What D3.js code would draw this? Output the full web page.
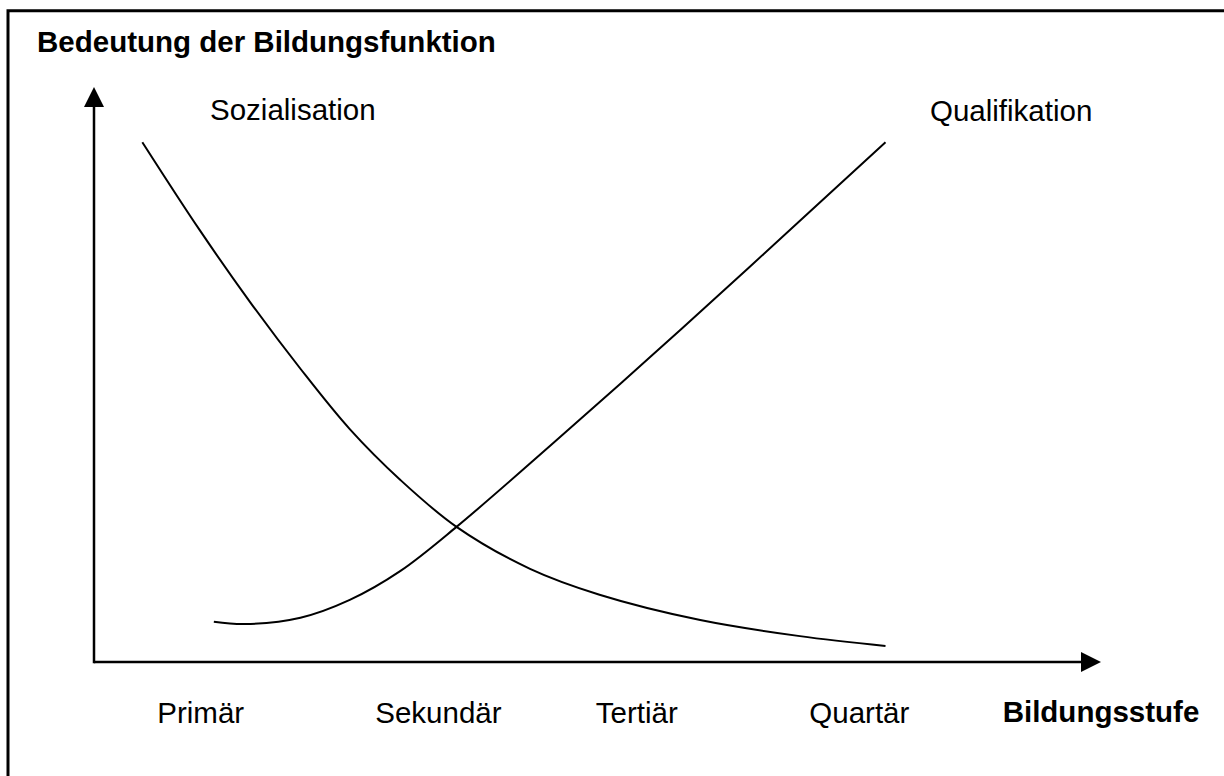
<!DOCTYPE html>
<html lang="de">
<head>
    <meta charset="UTF-8">
    <title>Bedeutung der Bildungsfunktion</title>
    <script src="https://d3js.org/d3.v7.min.js"></script>
    <style>
        body {
            margin: 0;
            background-color: #ffffff;
            font-family: "Liberation Sans", Arial, sans-serif;
        }
        .label {
            font-size: 29.5px;
            fill: #000;
        }
        .bold {
            font-weight: bold;
        }
    </style>
</head>
<body>
    <svg width="1224" height="776"></svg>
    <script>
        // Bildungsstufen (x-Position in Achseneinheiten 0..100)
        const stages = ["Primär", "Sekundär", "Tertiär", "Quartär"];
        const stagePos = [10.6, 34.2, 53.9, 76.0];

        // Sozialisation (fallend)
        const sozX = [4.8, 10.5, 15.5, 20.5, 25.4, 30.4, 36.0, 43.3, 50.2, 60.2, 70.1, 78.6];
        const sozY = [90.4, 75.1, 62.6, 51.0, 40.5, 31.7, 23.5, 16.2, 11.7, 7.3, 4.5, 2.8];

        // Qualifikation (steigend)
        const qualX = [11.9, 15.0, 20.5, 25.4, 30.4, 36.0, 45.3, 55.2, 65.1, 78.6];
        const qualY = [7.0, 6.6, 7.7, 10.8, 15.8, 23.5, 37.6, 53.0, 68.7, 90.4];

        const svg = d3.select("svg");

        const x = d3.scaleLinear().domain([0, 100]).range([94, 1101]);
        const y = d3.scaleLinear().domain([0, 100]).range([662, 87]);

        // Rahmen (nur links und oben sichtbar)
        svg.append("path")
           .attr("d", "M8,776 L8,10.7 L1224,10.7")
           .attr("fill", "none")
           .attr("stroke", "#000")
           .attr("stroke-width", 3);

        // Achsen mit Pfeilspitzen
        const x0 = x(0), y0 = y(0), xEnd = x(100), yEnd = y(100);
        svg.append("path")
           .attr("d", `M${x0},${y0} L${xEnd - 20},${y0}`)
           .attr("stroke", "#000")
           .attr("stroke-width", 2.5);
        svg.append("path")
           .attr("d", `M${xEnd},${y0} L${xEnd - 20},${y0 - 10} L${xEnd - 20},${y0 + 10} Z`)
           .attr("fill", "#000");

        svg.append("path")
           .attr("d", `M${x0},${y0 + 1.25} L${x0},${yEnd + 20}`)
           .attr("stroke", "#000")
           .attr("stroke-width", 2.5);
        svg.append("path")
           .attr("d", `M${x0},${yEnd} L${x0 - 10},${yEnd + 20} L${x0 + 10},${yEnd + 20} Z`)
           .attr("fill", "#000");

        // Kurven
        const line = d3.line()
                       .x(d => x(d[0]))
                       .y(d => y(d[1]))
                       .curve(d3.curveCatmullRom.alpha(0.5));

        const series = [
            {name: "Sozialisation", pts: d3.zip(sozX, sozY)},
            {name: "Qualifikation", pts: d3.zip(qualX, qualY)}
        ];

        svg.selectAll(".curve")
           .data(series)
           .enter()
           .append("path")
           .attr("class", "curve")
           .attr("d", d => line(d.pts))
           .attr("fill", "none")
           .attr("stroke", "#000")
           .attr("stroke-width", 2);

        // Kurvenbeschriftungen
        svg.append("text").attr("class", "label")
           .attr("x", 210).attr("y", 120)
           .text("Sozialisation");
        svg.append("text").attr("class", "label")
           .attr("x", 930).attr("y", 121)
           .text("Qualifikation");

        // Titel y-Achse
        svg.append("text").attr("class", "label bold")
           .attr("x", 37).attr("y", 52)
           .text("Bedeutung der Bildungsfunktion");

        // Kategorien x-Achse
        svg.selectAll(".stage")
           .data(stages)
           .enter()
           .append("text")
           .attr("class", "label stage")
           .attr("x", (d, i) => x(stagePos[i]))
           .attr("y", 723)
           .attr("text-anchor", "middle")
           .text(d => d);

        svg.append("text").attr("class", "label bold")
           .attr("x", x(100)).attr("y", 722)
           .attr("text-anchor", "middle")
           .text("Bildungsstufe");
    </script>
</body>
</html>
